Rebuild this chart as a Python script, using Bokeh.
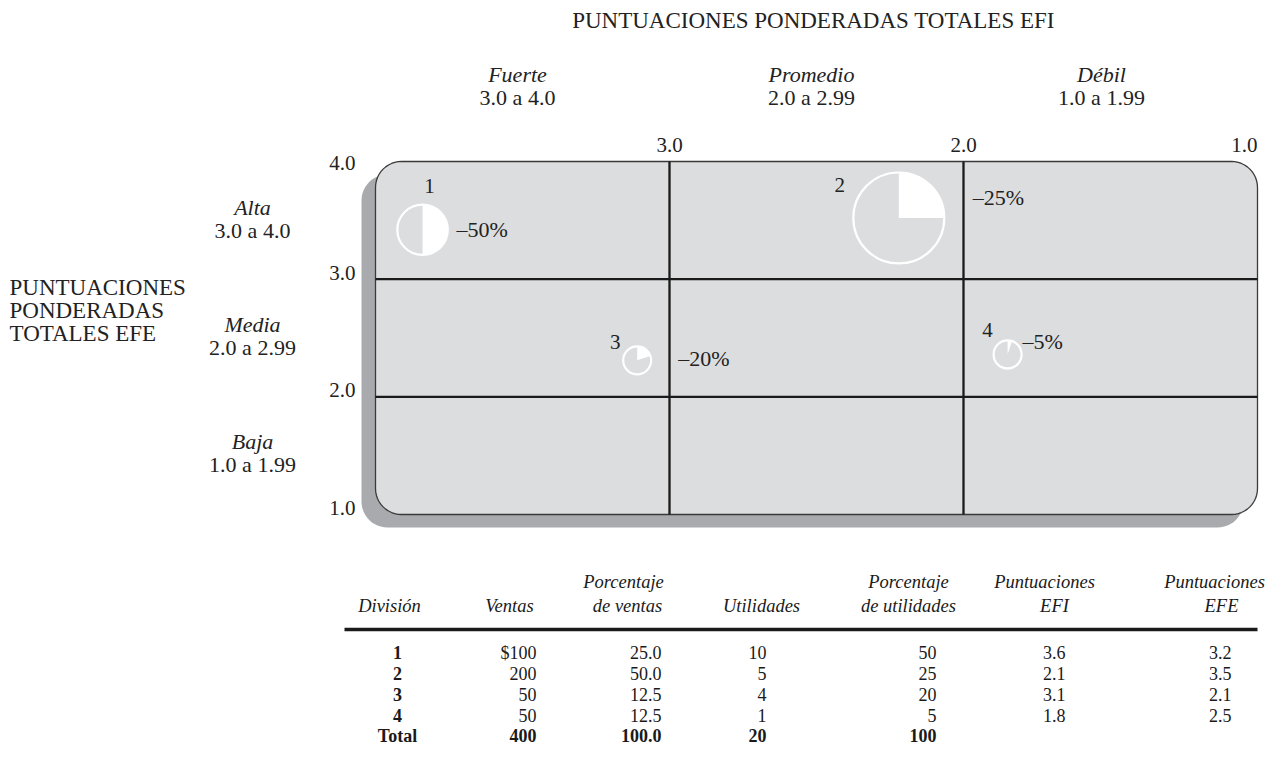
import math
from bokeh.plotting import figure
from bokeh.models import Range1d, ColumnDataSource
from bokeh.core.properties import value
from bokeh.embed import file_html
from bokeh.resources import INLINE

# ---------------- data ----------------
divisions = ["1", "2", "3", "4"]
sales = [100, 200, 50, 50]
sales_pct = [25.0, 50.0, 12.5, 12.5]
profits = [10, 5, 4, 1]
profits_pct = [50, 25, 20, 5]
efi_scores = [3.6, 2.1, 3.1, 1.8]
efe_scores = [3.2, 3.5, 2.1, 2.5]
total_sales = 400
total_sales_pct = 100.0
total_profits = 20
total_profits_pct = 100

# circle centres as drawn in the picture (EFI, EFE)
plotted_efi = [3.84, 2.22, 3.11, 1.85]
plotted_efe = [3.42, 3.52, 2.31, 2.36]

efi_ticks = [3.0, 2.0]
efi_end_tick = [1.0]
efe_ticks = [4.0, 3.0, 2.0, 1.0]
efi_categories = ["Fuerte", "Promedio", "Débil"]
efi_ranges = ["3.0 a 4.0", "2.0 a 2.99", "1.0 a 1.99"]
efe_categories = ["Alta", "Media", "Baja"]
efe_ranges = ["3.0 a 4.0", "2.0 a 2.99", "1.0 a 1.99"]
x_title = "PUNTUACIONES PONDERADAS TOTALES EFI"
y_title = ["PUNTUACIONES", "PONDERADAS", "TOTALES EFE"]

# ---------------- layout ----------------
W, H = 1267, 749
OFF = 1
MAT_L, MAT_R, MAT_T, MAT_B = 376, 1258, 162, 515
PX_EFI = (MAT_R - MAT_L) / 3.0
PX_EFE = (MAT_B - MAT_T) / 3.0

FONT = value("Liberation Serif")

p = figure(width=W, height=H, output_backend="svg", toolbar_location=None,
           x_range=Range1d(OFF, OFF + W), y_range=Range1d(OFF + H, OFF),
           x_axis_type=None, y_axis_type=None, min_border=0)
p.outline_line_color = None
p.background_fill_color = "white"
p.border_fill_color = "white"
p.xgrid.visible = False
p.ygrid.visible = False

p.extra_x_ranges = {"efi": Range1d(start=4 + (MAT_L - OFF) / PX_EFI,
                                   end=1 - (OFF + W - MAT_R) / PX_EFI)}
p.extra_y_ranges = {"efe": Range1d(start=1 - (OFF + H - MAT_B) / PX_EFE,
                                   end=4 + (MAT_T - OFF) / PX_EFE)}
R = dict(x_range_name="efi", y_range_name="efe")


def rounded(L, T, Rr, B, r, n=12):
    xs, ys = [], []
    for cx, cy, a0 in [(L + r, T + r, 180), (Rr - r, T + r, 270),
                       (Rr - r, B - r, 0), (L + r, B - r, 90)]:
        for k in range(n + 1):
            a = math.radians(a0 + 90 * k / n)
            xs.append(cx + r * math.cos(a))
            ys.append(cy + r * math.sin(a))
    return xs, ys

# shadow
sx, sy = rounded(MAT_L - 14, MAT_T + 13, MAT_R - 14, MAT_B + 13, 26)
p.patch(sx, sy, fill_color="#a9aaad", line_color=None)
# panel
bx, by = rounded(MAT_L, MAT_T, MAT_R, MAT_B, 26)
p.patch(bx, by, fill_color="#dcdddf", line_color="#3a3a3a", line_width=1.3)

# grid lines of the matrix
p.segment(x0=efi_ticks, y0=[1, 1], x1=efi_ticks, y1=[4, 4],
          line_color="#1a1a1a", line_width=2.3, **R)
p.segment(x0=[4, 4], y0=[3, 2], x1=[1, 1], y1=[3, 2],
          line_color="#1a1a1a", line_width=2.3, **R)

# pies
diam = [28 * (s / 50.0) ** 0.85 for s in sales]
src = ColumnDataSource(dict(
    x=plotted_efi, y=plotted_efe, d=diam, r=[d / 2.0 for d in diam],
    start=[math.pi / 2] * 4,
    end=[math.pi / 2 - 2 * math.pi * q / 100.0 for q in profits_pct],
    lab=divisions, pct=["\u2013%d%%" % q for q in profits_pct],
    ldx=[7, -59, -22, -20], ldy=[-44, -33, -18, -24],
    pdx=[34, 74, 41, 15], pdy=[0, -20, -2, -13],
))
p.wedge(x="x", y="y", radius="r", radius_units="screen", start_angle="start",
        end_angle="end", direction="clock", fill_color="white", line_color=None,
        source=src, **R)
p.scatter(x="x", y="y", size="d", marker="circle", fill_color=None,
          line_color="white", line_width=2.2, source=src, **R)
p.text(x="x", y="y", text="lab", x_offset="ldx", y_offset="ldy", source=src,
       text_font=FONT, text_font_size="21px", text_align="center",
       text_baseline="middle", text_color="#222222", **R)
p.text(x="x", y="y", text="pct", x_offset="pdx", y_offset="pdy", source=src,
       text_font=FONT, text_font_size="22px", text_align="left",
       text_baseline="middle", text_color="#222222", **R)

# tick labels
tk = dict(text_font=FONT, text_font_size="21px", text_baseline="middle",
          text_color="#222222")
p.text(x=efi_ticks, y=[4, 4], text=["%.1f" % t for t in efi_ticks],
       y_offset=-17, text_align="center", **tk, **R)
p.text(x=efi_end_tick, y=[4], text=["%.1f" % t for t in efi_end_tick],
       y_offset=-17, text_align="right", **tk, **R)
p.text(x=[4] * 4, y=efe_ticks, text=["%.1f" % t for t in efe_ticks],
       x_offset=-20, y_offset=[1, -6, -7, -7], text_align="right", **tk, **R)

# category labels
lb = dict(text_font=FONT, text_font_size="22px", text_baseline="middle",
          text_color="#222222")
cx = [518, 812, 1102]
p.text(x=cx, y=[75] * 3, text=efi_categories, text_font_style="italic",
       text_align="center", **lb)
p.text(x=cx, y=[98] * 3, text=efi_ranges, text_align="center", **lb)
cy = [208, 325, 442]
p.text(x=[253] * 3, y=cy, text=efe_categories, text_font_style="italic",
       text_align="center", **lb)
p.text(x=[253] * 3, y=[c + 23 for c in cy], text=efe_ranges,
       text_align="center", **lb)

tt = dict(lb, text_font_size="23px")
p.text(x=[814], y=[21], text=[x_title], text_align="center", **tt)
p.text(x=[10] * 3, y=[288, 311, 334], text=y_title, text_align="left", **tt)

# ---------------- table ----------------
tb = dict(text_font=FONT, text_font_size="18px", text_baseline="middle",
          text_color="#1a1a1a")
th = dict(tb, text_font_size="18.5px")
hdr1_y, hdr2_y = 582, 606
p.text(x=[624, 909, 1045, 1215], y=[hdr1_y] * 4,
       text=["Porcentaje", "Porcentaje", "Puntuaciones", "Puntuaciones"],
       text_font_style="italic", text_align="center", **th)
p.text(x=[390, 510, 628, 762, 909, 1055, 1222], y=[hdr2_y] * 7,
       text=["División", "Ventas", "de ventas", "Utilidades", "de utilidades",
             "EFI", "EFE"],
       text_font_style="italic", text_align="center", **th)
p.line(x=[345, 1258], y=[630, 630], line_color="#1a1a1a", line_width=3.5)

rows_y = [653, 674, 695, 716]
total_y = 736
p.text(x=[398] * 4, y=rows_y, text=divisions, text_font_style="bold",
       text_align="center", **tb)
p.text(x=[398], y=[total_y], text=["Total"], text_font_style="bold",
       text_align="center", **tb)
ventas_txt = ["$%d" % sales[0]] + ["%d" % s for s in sales[1:]]
cols = [
    (537, ventas_txt, "%d" % total_sales),
    (662, ["%.1f" % v for v in sales_pct], "%.1f" % total_sales_pct),
    (767, ["%d" % v for v in profits], "%d" % total_profits),
    (937, ["%d" % v for v in profits_pct], "%d" % total_profits_pct),
    (1066, ["%.1f" % v for v in efi_scores], None),
    (1232, ["%.1f" % v for v in efe_scores], None),
]
for xr, vals, tot in cols:
    p.text(x=[xr] * 4, y=rows_y, text=vals, text_align="right", **tb)
    if tot is not None:
        p.text(x=[xr], y=[total_y], text=[tot], text_font_style="bold",
               text_align="right", **tb)

open("out.html", "w").write(file_html(p, INLINE))
